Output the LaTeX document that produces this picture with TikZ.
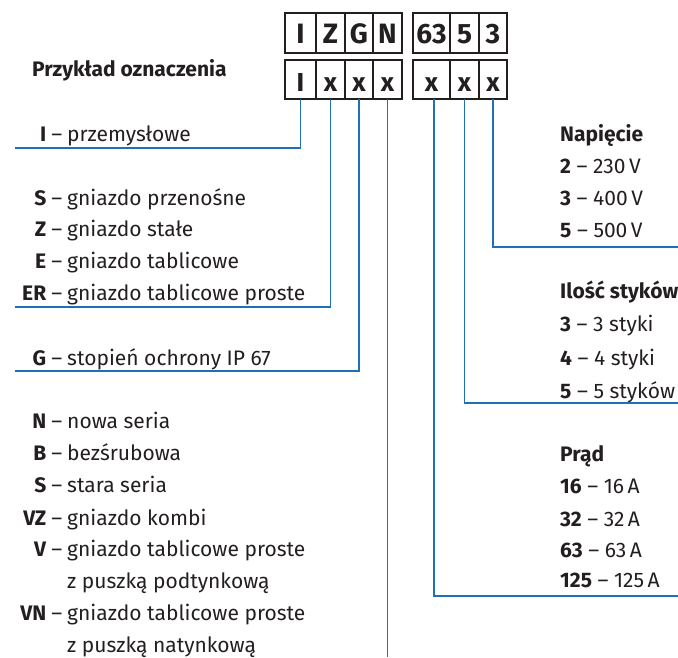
\documentclass[tikz,border=0pt]{standalone}
\usepackage{fontspec}
\setmainfont{Fira Sans}
\definecolor{ink}{RGB}{35,31,32}
\definecolor{lineblue}{RGB}{30,112,184}
\begin{document}
\begin{tikzpicture}[x=1pt,y=-1pt,
  cell/.style={draw=ink, line width=1.3pt, inner sep=0pt, outer sep=0pt, text=ink},
  toprow/.style={cell, minimum height=40pt, text height=21pt, text depth=0pt, font=\fontsize{28}{28}\bfseries\selectfont},
  botrow/.style={cell, minimum height=39pt, text height=24.4pt, text depth=0pt, font=\fontsize{26}{26}\bfseries\selectfont},
  conn/.style={draw=lineblue, line width=1.6pt},
  item/.style={anchor=base west, inner sep=0pt, text=ink, font=\fontsize{21}{21}\selectfont},
  head/.style={item, font=\fontsize{21}{21}\bfseries\selectfont}]
\useasboundingbox (0,0) rectangle (678,657);
% header cells
\node[toprow, minimum width=31pt] (t1) at (300.5,33) {I};
\node[toprow, minimum width=29pt] (t2) at (330.5,33) {Z};
\node[toprow, minimum width=28pt] (t3) at (359,33) {G};
\node[toprow, minimum width=29pt] (t4) at (387.5,33) {N};
\node[toprow, minimum width=37pt] (t5) at (431.5,33) {63};
\node[toprow, minimum width=29pt] (t6) at (464.5,33) {5};
\node[toprow, minimum width=28pt] (t7) at (493,33) {3};
\node[botrow, minimum width=31pt] (b1) at (300.5,79.5) {I};
\node[botrow, minimum width=29pt] (b2) at (330.5,79.5) {x};
\node[botrow, minimum width=28pt] (b3) at (359,79.5) {x};
\node[botrow, minimum width=29pt] (b4) at (387.5,79.5) {x};
\node[botrow, minimum width=37pt] (b5) at (431.5,79.5) {x};
\node[botrow, minimum width=29pt] (b6) at (464.5,79.5) {x};
\node[botrow, minimum width=28pt] (b7) at (493,79.5) {x};
% title
\node[head] (title) at (32,76.7) {Przykład oznaczenia};
% left lists
\node[item] (l1) at (67,141.7) {\llap{\textbf{I}\hspace{5pt}–\hspace{5pt}}przemysłowe};
\node[item] (l2) at (67,205.7) {\llap{\textbf{S}\hspace{5pt}–\hspace{5pt}}gniazdo przenośne};
\node[item] (l3) at (67,236.7) {\llap{\textbf{Z}\hspace{5pt}–\hspace{5pt}}gniazdo stałe};
\node[item] (l4) at (67,268.3) {\llap{\textbf{E}\hspace{5pt}–\hspace{5pt}}gniazdo tablicowe};
\node[item] (l5) at (67,300.5) {\llap{\textbf{ER}\hspace{5pt}–\hspace{5pt}}gniazdo tablicowe proste};
\node[item] (l6) at (67,365) {\llap{\textbf{G}\hspace{5pt}–\hspace{5pt}}stopień ochrony IP 67};
\node[item] (l7) at (67,428.3) {\llap{\textbf{N}\hspace{5pt}–\hspace{5pt}}nowa seria};
\node[item] (l8) at (67,460.7) {\llap{\textbf{B}\hspace{5pt}–\hspace{5pt}}bezśrubowa};
\node[item] (l9) at (67,492.7) {\llap{\textbf{S}\hspace{5pt}–\hspace{5pt}}stara seria};
\node[item] (l10) at (67,525) {\llap{\textbf{VZ}\hspace{5pt}–\hspace{5pt}}gniazdo kombi};
\node[item] (l11) at (67,556.7) {\llap{\textbf{V}\hspace{5pt}–\hspace{5pt}}gniazdo tablicowe proste};
\node[item] (l12) at (67,588.5) {z puszką podtynkową};
\node[item] (l13) at (67,620.7) {\llap{\textbf{VN}\hspace{5pt}–\hspace{5pt}}gniazdo tablicowe proste};
\node[item] (l14) at (67,652) {z puszką natynkową};
% right lists
\node[head] (r1) at (560,141) {Napięcie};
\node[item] (r2) at (560,173.5) {\textbf{2} – 230\,V};
\node[item] (r3) at (560,205.5) {\textbf{3} – 400\,V};
\node[item] (r4) at (560,237.3) {\textbf{5} – 500\,V};
\node[head] (r5) at (560,298) {Ilość styków};
\node[item] (r6) at (560,331) {\textbf{3} – 3 styki};
\node[item] (r7) at (560,365) {\textbf{4} – 4 styki};
\node[item] (r8) at (560,398.5) {\textbf{5} – 5 styków};
\node[head] (r9) at (560,461.7) {Prąd};
\node[item] (r10) at (560,493.3) {\textbf{16} – 16\,A};
\node[item] (r11) at (560,526) {\textbf{32} – 32\,A};
\node[item] (r12) at (560,557.7) {\textbf{63} – 63\,A};
\node[item] (r13) at (560,587.5) {\textbf{125} – 125\,A};
% connector ends
\coordinate (e1) at (15,148);
\coordinate (e2) at (15,306.7);
\coordinate (e3) at (15,371);
\coordinate (e4) at (387.5,657);
\coordinate (e5) at (680,596);
\coordinate (e6) at (680,403);
\coordinate (e7) at (680,247);
\coordinate (s5) at (434,99);
% connectors
\draw[conn] (b1.south) |- (e1);
\draw[conn] (b2.south) |- (e2);
\draw[conn] (b3.south) |- (e3);
\draw[conn] (b4.south) -- (e4);
\draw[conn] (s5) |- (e5);
\draw[conn] (b6.south) |- (e6);
\draw[conn] (b7.south) |- (e7);
\end{tikzpicture}
\end{document}
